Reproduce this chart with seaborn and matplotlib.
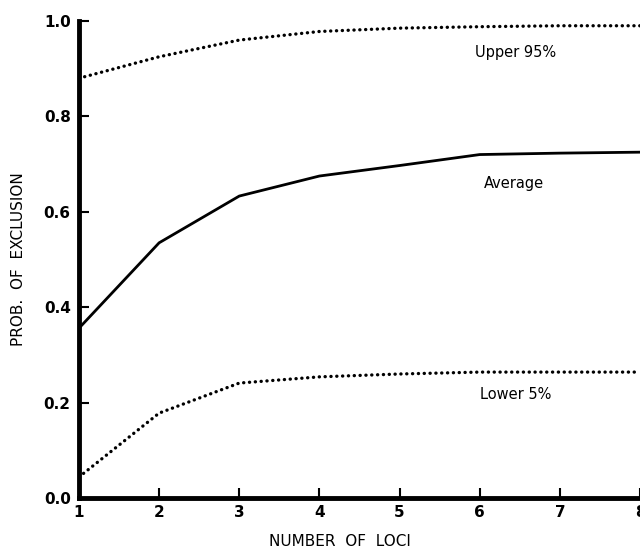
import matplotlib
matplotlib.use("Agg")
import matplotlib.pyplot as plt
import seaborn as sns
import pandas as pd

loci = [1, 2, 3, 4, 5, 6, 7, 8]
upper_95 = [0.880, 0.925, 0.960, 0.978, 0.985, 0.988, 0.990, 0.990]
average = [0.356, 0.535, 0.633, 0.675, 0.697, 0.720, 0.723, 0.725]
lower_5 = [0.044, 0.178, 0.241, 0.254, 0.260, 0.264, 0.264, 0.264]
x_ticks = [1, 2, 3, 4, 5, 6, 7, 8]
y_ticks = [0.0, 0.2, 0.4, 0.6, 0.8, 1.0]
y_tick_labels = ["0.0", "0.2", "0.4", "0.6", "0.8", "1.0"]
labels = {"Upper 95%": (6.45, 0.933), "Average": (6.43, 0.66), "Lower 5%": (6.45, 0.218)}

sns.set_style("ticks")
plt.rcParams['font.family'] = ['DejaVu Sans']
for k in ["text.color", "axes.labelcolor", "xtick.color", "ytick.color", "axes.edgecolor"]:
    plt.rcParams[k] = "black"

fig = plt.figure(figsize=(6.4, 5.48), dpi=100)
ax = fig.add_axes([0.1234, 0.0912, 0.8766, 0.8705])

df = pd.DataFrame({"loci": loci, "upper": upper_95, "avg": average, "lower": lower_5})
dot = (0, (0.05, 1.7))
sns.lineplot(data=df, x="loci", y="upper", ax=ax, color="black", linewidth=2.4,
             linestyle=dot, dash_capstyle="round")
sns.lineplot(data=df, x="loci", y="avg", ax=ax, color="black", linewidth=2.0)
sns.lineplot(data=df, x="loci", y="lower", ax=ax, color="black", linewidth=2.4,
             linestyle=dot, dash_capstyle="round")

for txt, (xx, yy) in labels.items():
    ax.text(xx, yy, txt, ha="center", va="center", fontsize=10.5, color="black")

ax.set_xlim(1, 8)
ax.set_ylim(0, 1.0)
ax.set_xticks(x_ticks)
ax.set_xticklabels([str(v) for v in x_ticks], fontweight="bold", fontsize=11)
ax.set_yticks(y_ticks)
ax.set_yticklabels(y_tick_labels, fontweight="bold", fontsize=11)
ax.tick_params(direction="in", length=7, width=1.5, color="black", pad=5)
ax.tick_params(axis="y", pad=6)

for s in ["top", "right"]:
    ax.spines[s].set_visible(False)
for s in ["left", "bottom"]:
    ax.spines[s].set_linewidth(3.5)
    ax.spines[s].set_color("black")
    ax.spines[s].set_capstyle("projecting")

ax.set_xlabel("NUMBER  OF  LOCI", fontsize=11)
ax.xaxis.set_label_coords(0.466, -0.075)
ax.set_ylabel("PROB.  OF  EXCLUSION", fontsize=11)
ax.yaxis.set_label_coords(-0.095, 0.5)

fig.savefig("out.png", dpi=100)
